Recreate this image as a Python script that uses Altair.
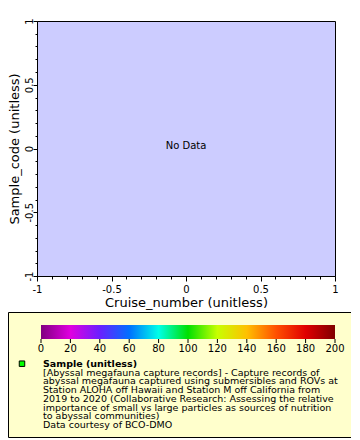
import altair as alt
import pandas as pd

# ---- data / labels ----
x_tick_values = [-1, -0.9, -0.8, -0.7, -0.6, -0.5, -0.4, -0.3, -0.2, -0.1, 0,
                 0.1, 0.2, 0.3, 0.4, 0.5, 0.6, 0.7, 0.8, 0.9, 1]
y_tick_values = [-1, -0.9, -0.8, -0.7, -0.6, -0.5, -0.4, -0.3, -0.2, -0.1, 0,
                 0.1, 0.2, 0.3, 0.4, 0.5, 0.6, 0.7, 0.8, 0.9, 1]
x_domain = [-1, 1]
y_domain = [-1, 1]
no_data_text = ["No Data"]
x_title = "Cruise_number (unitless)"
y_title = "Sample_code (unitless)"

cbar_ticks = [0, 20, 40, 60, 80, 100, 120, 140, 160, 180, 200]
cbar_colors = ["#800080", "#e000e0", "#6a20ff", "#0070ff", "#00ffe8", "#00e000",
               "#c8ff00", "#ffc000", "#ff5000", "#e00000", "#800000"]

legend_title = "Sample (unitless)"
legend_lines = [
    "[Abyssal megafauna capture records] - Capture records of",
    "abyssal megafauna captured using submersibles and ROVs at",
    "Station ALOHA off Hawaii and Station M off California from",
    "2019 to 2020 (Collaborative Research: Assessing the relative",
    "importance of small vs large particles as sources of nutrition",
    "to abyssal communities)",
    "Data courtesy of BCO-DMO",
]
marker_color = "#00ff00"

# ---- layout ----
W, H = 298, 255
FONT = "DejaVu Sans"
MAJ = "abs(datum.value*2 - round(datum.value*2)) < 0.001"

x_axis = alt.Axis(
    values=x_tick_values, title=x_title, grid=False,
    labelExpr=f"{MAJ} ? '' + datum.value : ''",
    tickSize={"condition": {"test": MAJ, "value": 5}, "value": 3},
    labelPadding=3, labelFlush=False, labelOverlap=False,
    labelFontSize=10, titleFontSize=13, titlePadding=2,
)
y_axis = alt.Axis(
    values=y_tick_values, title=y_title, grid=False,
    labelExpr=f"{MAJ} ? '' + datum.value : ''",
    tickSize={"condition": {"test": MAJ, "value": 4}, "value": 2},
    labelAngle=270, labelAlign="center", labelBaseline="alphabetic",
    labelPadding=1, labelFlush=False, labelOverlap=False,
    labelFontSize=10, titleFontSize=13, titlePadding=3,
)

main = alt.Chart(pd.DataFrame({"x": [0], "y": [0], "t": no_data_text})).mark_text(
    font=FONT, fontSize=10, align="center", baseline="alphabetic", color="black"
).encode(
    x=alt.X("x:Q", scale=alt.Scale(domain=x_domain, nice=False, zero=False), axis=x_axis),
    y=alt.Y("y:Q", scale=alt.Scale(domain=y_domain, nice=False, zero=False), axis=y_axis),
    text="t:N",
)

box = alt.Chart(pd.DataFrame({"a": [0]})).mark_rect(
    fill="#ffffcc", stroke="black", strokeWidth=1
).encode(
    x=alt.value(-28.5), x2=alt.value(314.5), y=alt.value(291.5), y2=alt.value(416.5)
)

cbar_scale = alt.Scale(domain=[cbar_ticks[0], cbar_ticks[-1]], range=[4, 298], nice=False, zero=False)
grad = alt.LinearGradient(
    gradient="linear",
    stops=[alt.GradientStop(color=c, offset=i / (len(cbar_colors) - 1)) for i, c in enumerate(cbar_colors)],
    x1=0, x2=1, y1=0, y2=0,
)
cbar = alt.Chart(pd.DataFrame({"lo": [cbar_ticks[0]], "hi": [cbar_ticks[-1]]})).mark_rect(
    fill=grad
).encode(
    x=alt.X("lo:Q", scale=cbar_scale, axis=None), x2="hi:Q",
    y=alt.value(304), y2=alt.value(318),
)
cdf = pd.DataFrame({"v": cbar_ticks, "s": [str(v) for v in cbar_ticks]})
cticks = alt.Chart(cdf).mark_rule(color="black", strokeWidth=1).encode(
    x=alt.X("v:Q", scale=cbar_scale, axis=None), y=alt.value(318), y2=alt.value(322)
)
clabels = alt.Chart(cdf).mark_text(
    font=FONT, fontSize=10, align="center", baseline="middle", color="black"
).encode(
    x=alt.X("v:Q", scale=cbar_scale, axis=None), y=alt.value(328), text="s:N"
)

ltitle = alt.Chart(alt.Data(values=[{"t": legend_title}])).mark_text(
    font=FONT, fontSize=9.5, fontWeight="bold", align="left", baseline="middle", color="black"
).encode(
    x=alt.value(6), y=alt.value(342.7), text="t:N",
)
ltext = alt.Chart(alt.Data(values=[{"t": legend_lines}])).mark_text(
    font=FONT, fontSize=9.5, align="left", baseline="middle", color="black", lineHeight=8.75
).encode(
    x=alt.value(6), y=alt.value(351.7), text="t:N",
)
marker = alt.Chart(alt.Data(values=[{"t": legend_title}])).mark_square(
    fill=marker_color, stroke="black", strokeWidth=1, size=30, opacity=1
).encode(
    x=alt.value(-15), y=alt.value(342.7),
)

chart = alt.layer(main, box, cbar, cticks, clabels, ltitle, ltext, marker).resolve_scale(
    x="independent", y="independent"
).properties(
    width=W, height=H,
    autosize=alt.AutoSizeParams(type="none"),
    padding={"left": 29, "top": 13, "right": 16, "bottom": 164},
    background="white",
).configure_view(
    fill="#ccccff", stroke="black", strokeWidth=1
).configure_axis(
    domainColor="black", tickColor="black", labelColor="black", titleColor="black",
    labelFont=FONT, titleFont=FONT, titleFontWeight="normal",
)

chart.save("out.html", embed_options={"renderer": "svg", "actions": False})
